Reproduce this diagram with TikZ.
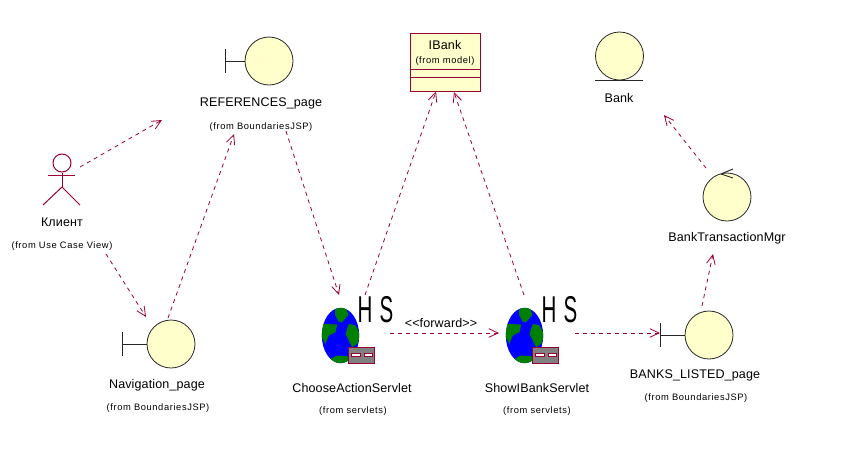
\documentclass[tikz,border=0pt]{standalone}
\usepackage{fontspec}
\setmainfont{Liberation Sans}
\usetikzlibrary{arrows.meta,calc,shapes.geometric}
\definecolor{umlred}{HTML}{990033}
\definecolor{umlfill}{HTML}{FFFFCC}
\definecolor{globeblue}{HTML}{0000FF}
\definecolor{globegreen}{HTML}{008000}
\tikzset{
  x=0.75pt,y=-0.75pt,
  dep/.style={draw=umlred,line width=0.6pt,dash pattern=on 3pt off 3pt,-{Straight Barb[length=7pt,width=7pt,line width=0.6pt,angle'=50]}},
  circ/.style={circle,draw=black!85,fill=umlfill,line width=0.6pt,minimum size=36pt,inner sep=0pt},
  bline/.style={draw=black!85,line width=0.7pt},
  title/.style={font=\fontsize{9.4}{11}\selectfont\addfontfeature{LetterSpace=1}\mbox{},inner sep=0pt},
  sub/.style={font=\fontsize{7}{8}\selectfont\addfontfeature{LetterSpace=6.5},inner sep=0pt},
  actorline/.style={draw=umlred,line width=0.75pt},
  classline/.style={draw=umlred,line width=0.7pt}
}
\newcommand{\servletglobe}[3]{%
 \node[inner sep=0pt,minimum size=1pt] (#3) at (#1,#2) {};
 \begin{scope}[shift={(#1,#2)},x=0.25pt,y=-0.25pt]
  \begin{scope}
  \clip (0,0) ellipse [x radius=56,y radius=83];
  \fill[globeblue] (-60,-90) rectangle (60,90);
  \fill[globegreen] (-16,-77)--(-6,-85)--(12,-85)--(19,-77)--(24,-62)--(4,-39)--(-6,-42)--(-16,-62)--cycle;
  \fill[globegreen] (-60,-35)--(-10,-33)--(-15,-10)--(-35,0)--(-45,25)--(-60,0)--cycle;
  \fill[globegreen] (25,-35)--(45,-30)--(60,0)--(50,25)--(35,35)--(15,-5)--cycle;
  \fill[globegreen] (-30,70)--(-10,60)--(20,62)--(30,72)--(10,90)--(-15,90)--cycle;
  \end{scope}
  \filldraw[fill=gray,draw=umlred,line width=0.8pt] (24,35) rectangle (103,83);
  \filldraw[fill=white,draw=umlred,line width=0.7pt] (34,53) rectangle (59,63);
  \filldraw[fill=white,draw=umlred,line width=0.7pt] (71,53) rectangle (96,63);
 \end{scope}
 \node[inner sep=0pt,font=\fontsize{28}{30}\selectfont] (#3hs) at ($(#1,#2)+(35,-26)$) {\scalebox{0.55}[1]{H}\hspace{5.5pt}\scalebox{0.55}[1]{S}};
}
\begin{document}
\begin{tikzpicture}
\useasboundingbox (0,0) rectangle (864,461);

% Actor
\node[circle,draw=umlred,line width=0.75pt,minimum size=13.5pt,inner sep=0pt] (actorhead) at (62,163) {};
\coordinate (actorhip) at (62,187);
\draw[actorline] (actorhead.south) -- (actorhip);
\draw[actorline] (48,175.5) -- (75,175.5);
\draw[actorline] (43,205) -- (actorhip) -- (80,205);
\node[title] (client) at (62,222) {Клиент};
\node[sub] (clientsub) at (62,246.5) {(from Use Case View)};

% Boundaries
\node[circ] (refs) at (269,61) {};
\draw[bline] (225,49) -- (225,73) (225,61) -- (refs.west);
\node[title] (refstitle) at (261,103.5) {REFERENCES\_page};
\node[sub] (refssub) at (261,127.5) {(from BoundariesJSP)};

\node[circ] (nav) at (171,344) {};
\draw[bline] (122,332) -- (122,356) (122,344) -- (nav.west);
\node[title] (navtitle) at (157,385.5) {Navigation\_page};
\node[sub] (navsub) at (158,408.5) {(from BoundariesJSP)};

\node[circ] (banks) at (709,335) {};
\draw[bline] (660,323) -- (660,347) (660,335) -- (banks.west);
\node[title] (bankstitle) at (695,375.5) {BANKS\_LISTED\_page};
\node[sub] (bankssub) at (696,398.5) {(from BoundariesJSP)};

% Entity
\node[circ] (bank) at (619.5,56) {};
\draw[bline] (595,80.3) -- (643,80.3);
\node[title] (banktitle) at (619,98.5) {Bank};

% Control
\node[circ] (mgr) at (727,197) {};
\draw[bline] (721,174) -- (733,169) (721,174) -- (733,178);
\node[title] (mgrtitle) at (727,238) {BankTransactionMgr};

% IBank class
\node[draw=umlred,fill=umlfill,line width=0.7pt,minimum width=52.5pt,minimum height=43.5pt,inner sep=0pt] (ibank) at (445,62) {};
\draw[classline] (ibank.west |- 0,69) -- (ibank.east |- 0,69);
\draw[classline] (ibank.west |- 0,77) -- (ibank.east |- 0,77);
\node[title] (ibanktitle) at (445,45.5) {IBank};
\node[sub] (ibanksub) at (445,61) {(from model)};

% Servlets
\servletglobe{340.5}{335.5}{choose}
\node[title] (choosetitle) at (352,388) {ChooseActionServlet};
\node[sub] (choosesub) at (353,411.5) {(from servlets)};

\servletglobe{524.5}{335.5}{show}
\node[title] (showtitle) at (537,388) {ShowIBankServlet};
\node[sub] (showsub) at (537,411.5) {(from servlets)};

\node[title] (fwd) at (441,323) {<{}<forward>{}>};

% Connector anchors
\coordinate (a1) at (80,167);   \coordinate (a1e) at (162,120);
\coordinate (a2) at (106,254);  \coordinate (a2e) at (146,317);
\coordinate (a3) at (168,318);  \coordinate (a3e) at (234,134);
\coordinate (a4) at (286,131);  \coordinate (a4e) at (339,295);
\coordinate (a5) at (365,295);  \coordinate (a5e) at (436,91.5);
\coordinate (a6) at (524,295);  \coordinate (a6e) at (454,92);
\coordinate (a7) at (390,333);  \coordinate (a7e) at (499,333);
\coordinate (a8) at (575,333);  \coordinate (a8e) at (660,333);
\coordinate (a9) at (702,306);  \coordinate (a9e) at (713,254);
\coordinate (a10) at (706,168); \coordinate (a10e) at (664,115);

\draw[dep] (a1) -- (a1e);
\draw[dep] (a2) -- (a2e);
\draw[dep] (a3) -- (a3e);
\draw[dep] (a4) -- (a4e);
\draw[dep] (a5) -- (a5e);
\draw[dep] (a6) -- (a6e);
\draw[dep] (a7) -- (a7e);
\draw[dep] (a8) -- (a8e);
\draw[dep] (a9) -- (a9e);
\draw[dep] (a10) -- (a10e);
\end{tikzpicture}
\end{document}
